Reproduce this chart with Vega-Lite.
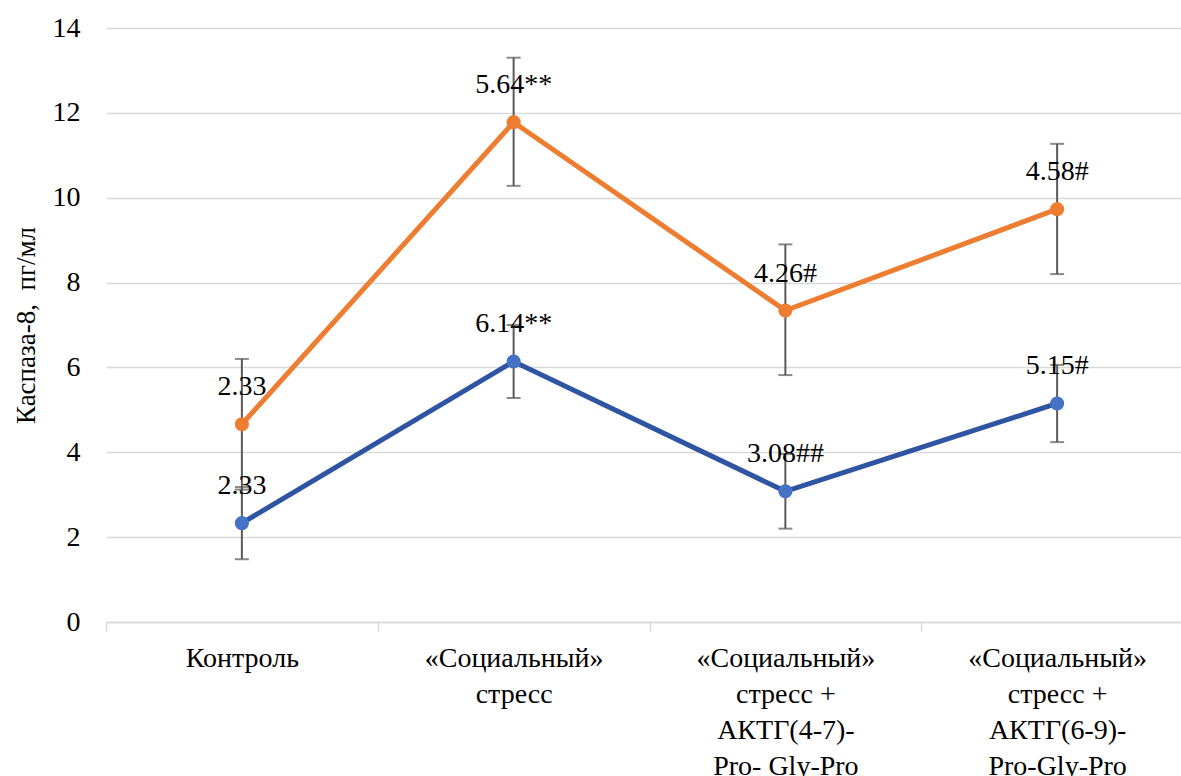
{
  "$schema": "https://vega.github.io/schema/vega-lite/v6.json",
  "width": 1087,
  "height": 594,
  "autosize": {"type": "none"},
  "padding": {"left": 106, "top": 28, "right": 0, "bottom": 154},
  "background": "white",
  "config": {
    "view": {"stroke": null},
    "font": "'Liberation Serif', 'Times New Roman', serif"
  },
  "data": {
    "values": [
      {"cat": "Контроль", "series": "b", "y": 2.33, "lo": 1.48, "hi": 3.18, "label": "2.33"},
      {"cat": "Контроль", "series": "o", "y": 4.66, "lo": 3.12, "hi": 6.2, "label": "2.33"},
      {"cat": "«Социальный»|стресс", "series": "b", "y": 6.14, "lo": 5.28, "hi": 7.0, "label": "6.14**"},
      {"cat": "«Социальный»|стресс", "series": "o", "y": 11.78, "lo": 10.28, "hi": 13.3, "label": "5.64**"},
      {"cat": "«Социальный»|стресс +|АКТГ(4-7)-|Pro- Gly-Pro", "series": "b", "y": 3.08, "lo": 2.2, "hi": 3.96, "label": "3.08##"},
      {"cat": "«Социальный»|стресс +|АКТГ(4-7)-|Pro- Gly-Pro", "series": "o", "y": 7.34, "lo": 5.82, "hi": 8.9, "label": "4.26#"},
      {"cat": "«Социальный»|стресс +|АКТГ(6-9)-|Pro-Gly-Pro", "series": "b", "y": 5.15, "lo": 4.24, "hi": 6.06, "label": "5.15#"},
      {"cat": "«Социальный»|стресс +|АКТГ(6-9)-|Pro-Gly-Pro", "series": "o", "y": 9.73, "lo": 8.2, "hi": 11.27, "label": "4.58#"}
    ]
  },
  "encoding": {
    "x": {
      "field": "cat",
      "type": "nominal",
      "sort": null,
      "scale": {"type": "band", "paddingInner": 0, "paddingOuter": 0},
      "axis": {
        "title": null,
        "labelAngle": 0,
        "labelExpr": "split(datum.label, '|')",
        "labelFont": "'Liberation Serif', 'Times New Roman', serif",
        "labelFontSize": 28,
        "labelColor": "#000000",
        "labelLineHeight": 36,
        "labelPadding": 13,
        "labelBaseline": "top",
        "tickBand": "extent",
        "tickSize": 9,
        "tickColor": "#d9d9d9",
        "tickWidth": 1.5,
        "domainColor": "#d9d9d9",
        "domainWidth": 1.5,
        "labelLimit": 400
      }
    }
  },
  "layer": [
    {
      "mark": {"type": "line", "strokeWidth": 5},
      "encoding": {
        "y": {
          "field": "y",
          "type": "quantitative",
          "scale": {"domain": [0, 14]},
          "axis": {
            "title": "Каспаза-8,\u00a0 пг/мл",
            "titleFont": "'Liberation Serif', 'Times New Roman', serif",
            "titleFontSize": 27,
            "titleFontWeight": "normal",
            "titleColor": "#000000",
            "titlePadding": 12,
            "values": [0, 2, 4, 6, 8, 10, 12, 14],
            "labelFont": "'Liberation Serif', 'Times New Roman', serif",
            "labelFontSize": 28,
            "labelColor": "#000000",
            "labelPadding": 26,
            "ticks": false,
            "domain": false,
            "grid": true,
            "gridColor": "#d9d9d9",
            "gridWidth": 1.5
          }
        },
        "stroke": {
          "field": "series",
          "type": "nominal",
          "scale": {"domain": ["b", "o"], "range": ["#2F55A2", "#ED7D31"]},
          "legend": null
        }
      }
    },
    {
      "mark": {"type": "rule", "color": "#595959", "strokeWidth": 2},
      "encoding": {
        "y": {"field": "lo", "type": "quantitative"},
        "y2": {"field": "hi"}
      }
    },
    {
      "mark": {"type": "tick", "color": "#595959", "thickness": 2, "size": 14, "orient": "horizontal"},
      "encoding": {
        "y": {"field": "lo", "type": "quantitative"}
      }
    },
    {
      "mark": {"type": "tick", "color": "#595959", "thickness": 2, "size": 14, "orient": "horizontal"},
      "encoding": {
        "y": {"field": "hi", "type": "quantitative"}
      }
    },
    {
      "mark": {"type": "point", "filled": true, "size": 200, "opacity": 1},
      "encoding": {
        "y": {"field": "y", "type": "quantitative"},
        "fill": {
          "field": "series",
          "type": "nominal",
          "scale": {"domain": ["b", "o"], "range": ["#4472C4", "#ED7D31"]},
          "legend": null
        }
      }
    },
    {
      "mark": {"type": "text", "font": "'Liberation Serif', 'Times New Roman', serif", "fontSize": 28, "color": "#000000", "dy": -37, "baseline": "middle", "align": "center"},
      "encoding": {
        "y": {"field": "y", "type": "quantitative"},
        "text": {"field": "label", "type": "nominal"}
      }
    }
  ]
}
